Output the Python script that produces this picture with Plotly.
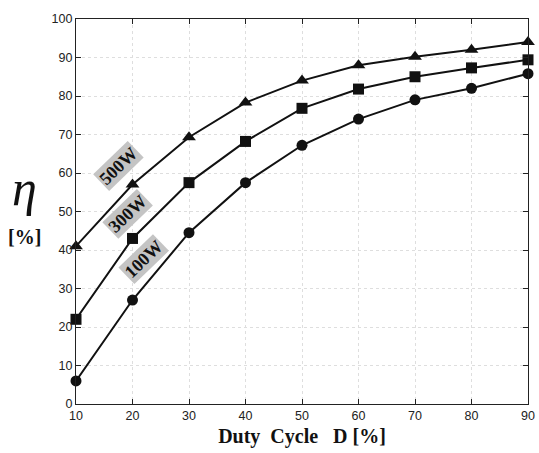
import plotly.graph_objects as go

duty = [10, 20, 30, 40, 50, 60, 70, 80, 90]
eff_100w = [6, 27, 44.5, 57.5, 67.2, 74, 79, 82, 85.8]
eff_300w = [22, 43, 57.5, 68.2, 76.8, 81.8, 85, 87.3, 89.4]
eff_500w = [41, 57, 69.3, 78.3, 84, 88, 90.2, 92, 94]
series = [("100W", eff_100w, "circle"), ("300W", eff_300w, "square"), ("500W", eff_500w, "triangle-up")]

y_ticks = list(range(0, 101, 10))

fig = go.Figure()
for name, vals, sym in series:
    fig.add_trace(go.Scatter(
        x=duty, y=vals, mode="lines+markers", name=name,
        line=dict(color="#111", width=2),
        marker=dict(symbol=sym, size=11 if sym != "triangle-up" else 12, color="#111"),
        cliponaxis=False,
    ))

serif = "Liberation Serif, Times New Roman, serif"
label_pos = {"500W": (17.5, 61.8), "300W": (19.1, 49.4), "100W": (22.0, 37.7)}
for name, (lx, ly) in label_pos.items():
    fig.add_annotation(x=lx, y=ly, text="<b>%s</b>" % name, showarrow=False,
                       textangle=-44, bgcolor="#c4c4c4",
                       font=dict(family=serif, size=18, color="#111"), borderpad=1)

fig.add_annotation(xref="paper", yref="paper", x=-0.115, y=0.56, text="<i>η</i>",
                   xanchor="center", yanchor="middle",
                   showarrow=False, font=dict(family=serif, size=50, color="#111"))
fig.add_annotation(xref="paper", yref="paper", x=-0.115, y=0.435, text="<b>[%]</b>",
                   xanchor="center", yanchor="middle",
                   showarrow=False, font=dict(family=serif, size=20, color="#111"))

axis_common = dict(showline=True, linecolor="#222", linewidth=1.3, mirror="ticks",
                   ticks="inside", ticklen=5, tickcolor="#222",
                   showgrid=True, gridcolor="#dedede", griddash="dot", gridwidth=1,
                   zeroline=False, ticklabeloverflow="allow",
                   tickfont=dict(family="Liberation Sans, Arial, sans-serif", size=12.5, color="#222"))

nb = "&nbsp;"
fig.update_layout(
    width=539, height=453,
    margin=dict(l=76, r=4, t=19, b=49),
    plot_bgcolor="white", paper_bgcolor="white",
    showlegend=False,
    xaxis=dict(range=[10, 90], tickvals=duty, **axis_common,
               title=dict(text="<b>Duty" + nb * 2 + "Cycle" + nb * 3 + "D [%]</b>", standoff=6,
                          font=dict(family=serif, size=20, color="#111"))),
    yaxis=dict(range=[0, 100], tickvals=y_ticks, **axis_common),
)

fig.write_html("out.html")
